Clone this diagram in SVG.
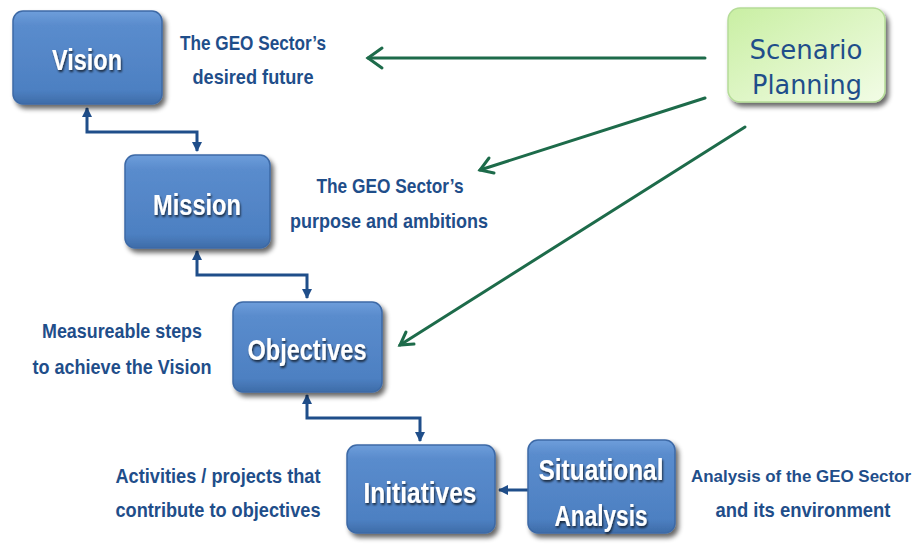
<svg xmlns="http://www.w3.org/2000/svg" width="924" height="546" viewBox="0 0 924 546">
<defs>
<linearGradient id="blue" x1="0" y1="0" x2="0" y2="1">
<stop offset="0" stop-color="#6E9EDB"/>
<stop offset="0.15" stop-color="#5A8CCD"/>
<stop offset="0.85" stop-color="#4D80C2"/>
<stop offset="1" stop-color="#3E6CA8"/>
</linearGradient>
<linearGradient id="green" x1="0" y1="0" x2="1" y2="1">
<stop offset="0" stop-color="#C9EFA3"/>
<stop offset="1" stop-color="#F2FCE6"/>
</linearGradient>
<filter id="sh" x="-10%" y="-10%" width="125%" height="130%">
<feGaussianBlur in="SourceAlpha" stdDeviation="2.5"/>
<feOffset dx="3" dy="4" result="b"/>
<feComponentTransfer><feFuncA type="linear" slope="0.6"/></feComponentTransfer>
<feMerge><feMergeNode/><feMergeNode in="SourceGraphic"/></feMerge>
</filter>
<filter id="ts" x="-10%" y="-20%" width="120%" height="150%">
<feGaussianBlur in="SourceAlpha" stdDeviation="1.2"/>
<feOffset dx="1" dy="2"/>
<feComponentTransfer><feFuncA type="linear" slope="0.7"/></feComponentTransfer>
<feMerge><feMergeNode/><feMergeNode in="SourceGraphic"/></feMerge>
</filter>
<marker id="ab" viewBox="0 0 10 10" refX="9" refY="5" markerWidth="3.5" markerHeight="3.5" orient="auto-start-reverse">
<path d="M0,0 L10,5 L0,10 z" fill="#1F4E8A"/>
</marker>
</defs>
<style>
.box{fill:url(#blue);stroke:#3C69A6;stroke-width:1.5;filter:url(#sh)}
.nt{font-family:"Liberation Sans Narrow","Liberation Sans",sans-serif;font-weight:bold;font-size:30px;fill:#FFFFFF;text-anchor:middle;filter:url(#ts)}
.lb{font-family:"Liberation Sans Narrow","Liberation Sans",sans-serif;font-weight:bold;font-size:21px;fill:#1F4E8A;text-anchor:middle}
.bl{fill:none;stroke:#1F4E8A;stroke-width:3}
.sc{font-family:"DejaVu Sans",sans-serif;font-size:26px;fill:#1F4E8A;text-anchor:middle}
</style>
<rect width="924" height="546" fill="#FFFFFF"/>

<g id="connectors">
<path class="bl" d="M87,108 V132 H197 V151" marker-start="url(#ab)" marker-end="url(#ab)"/>
<path class="bl" d="M197,251 V275 H307 V298" marker-start="url(#ab)" marker-end="url(#ab)"/>
<path class="bl" d="M307,395 V418 H420 V441" marker-start="url(#ab)" marker-end="url(#ab)"/>
<path class="bl" d="M528,490 H499" marker-end="url(#ab)"/>
<g stroke="#1D6B4A" stroke-width="3" fill="none" stroke-linecap="round">
<path d="M705,58 H368"/>
<path d="M382,48 L368,58 L382,68"/>
<path d="M705,98 L480,170"/>
<path d="M489,158 L480,170 L494,173"/>
<path d="M745,127 L400,345"/>
<path d="M406,332 L400,345 L414,344"/>
</g>
</g>

<g id="vision">
<rect class="box" x="13" y="11" width="149" height="93" rx="10"/>
<text class="nt" x="87" y="70" textLength="70" lengthAdjust="spacingAndGlyphs">Vision</text>
</g>
<g id="mission">
<rect class="box" x="125" y="155" width="145" height="93" rx="10"/>
<text class="nt" x="197" y="215" textLength="88" lengthAdjust="spacingAndGlyphs">Mission</text>
</g>
<g id="objectives">
<rect class="box" x="233" y="302" width="149" height="90" rx="10"/>
<text class="nt" x="307" y="360" textLength="119" lengthAdjust="spacingAndGlyphs">Objectives</text>
</g>
<g id="initiatives">
<rect class="box" x="347" y="445" width="148" height="88" rx="10"/>
<text class="nt" x="420" y="503" textLength="113" lengthAdjust="spacingAndGlyphs">Initiatives</text>
</g>
<g id="situational">
<rect class="box" x="528" y="440" width="147" height="93" rx="10"/>
<text class="nt" x="601" y="480" textLength="125" lengthAdjust="spacingAndGlyphs">Situational</text>
<text class="nt" x="601" y="526" textLength="93" lengthAdjust="spacingAndGlyphs">Analysis</text>
</g>
<g id="scenario">
<rect x="728" y="8" width="157" height="94" rx="12" fill="url(#green)" stroke="#B5DC98" stroke-width="1.5" filter="url(#sh)"/>
<text class="sc" x="806" y="59" textLength="113" lengthAdjust="spacingAndGlyphs">Scenario</text>
<text class="sc" x="807" y="94" textLength="110" lengthAdjust="spacingAndGlyphs">Planning</text>
</g>

<g id="labels">
<text class="lb" x="253" y="50" textLength="146" lengthAdjust="spacingAndGlyphs">The GEO Sector’s</text>
<text class="lb" x="253" y="84" textLength="121" lengthAdjust="spacingAndGlyphs">desired future</text>
<text class="lb" x="390" y="193" textLength="147" lengthAdjust="spacingAndGlyphs">The GEO Sector’s</text>
<text class="lb" x="389" y="228" textLength="198" lengthAdjust="spacingAndGlyphs">purpose and ambitions</text>
<text class="lb" x="122" y="338" textLength="160" lengthAdjust="spacingAndGlyphs">Measureable steps</text>
<text class="lb" x="122" y="374" textLength="179" lengthAdjust="spacingAndGlyphs">to achieve the Vision</text>
<text class="lb" x="218" y="483" textLength="205" lengthAdjust="spacingAndGlyphs">Activities / projects that</text>
<text class="lb" x="218" y="517" textLength="205" lengthAdjust="spacingAndGlyphs">contribute to objectives</text>
<text class="lb" x="801" y="482" style="font-size:17px" textLength="220" lengthAdjust="spacingAndGlyphs">Analysis of the GEO Sector</text>
<text class="lb" x="803" y="517" textLength="175" lengthAdjust="spacingAndGlyphs">and its environment</text>
</g>
</svg>
